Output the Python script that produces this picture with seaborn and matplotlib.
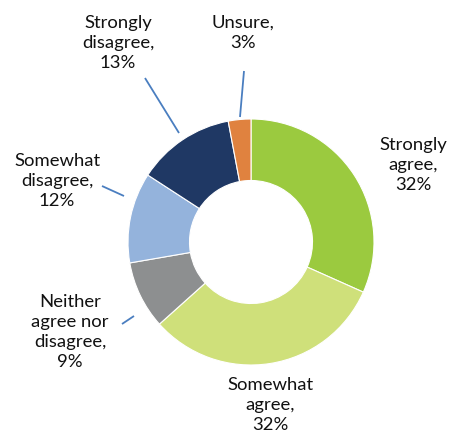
import matplotlib
matplotlib.use("Agg")
import matplotlib.pyplot as plt
import seaborn as sns

categories = ["Strongly agree", "Somewhat agree", "Neither agree nor disagree",
              "Somewhat disagree", "Strongly disagree", "Unsure"]
values = [32, 32, 9, 12, 13, 3]
label_texts = ["Strongly\nagree,\n32%", "Somewhat\nagree,\n32%", "Neither\nagree nor\ndisagree,\n9%",
               "Somewhat\ndisagree,\n12%", "Strongly\ndisagree,\n13%", "Unsure,\n3%"]
colors = ["#9BCA3F", "#CFE07A", "#8D8F90", "#94B3DC", "#1F3864", "#E0823F"]

sns.set_theme(style="white")
plt.rcParams['font.family'] = ['Lato', 'DejaVu Sans']

W, H = 454, 435
fig = plt.figure(figsize=(W / 100, H / 100), dpi=100)
ax = fig.add_axes([0, 0, 1, 1])

cx, cy, R = 251, H - 243, 123
wedges, _ = ax.pie(values, colors=colors, startangle=90, counterclock=False,
                   center=(cx, cy), radius=R, wedgeprops=dict(width=R * 0.5, edgecolor="white", linewidth=0.8))

# label positions (pixel layout, y from top)
label_pos = [(413, 165), (270, 405), (70, 332), (57, 181), (118, 43), (243, 33)]
for (x, y), t in zip(label_pos, label_texts):
    ax.text(x, H - y, t, ha="center", va="center", fontsize=13.3, color="#111111", linespacing=1.33)

# leader lines (pixel layout, y from top)
leaders = [((179, 134), (145, 79)), ((240, 118), (244, 72)),
           ((124, 197), (102, 187)), ((134, 317), (122, 325))]
for (x1, y1), (x2, y2) in leaders:
    ax.plot([x1, x2], [H - y1, H - y2], color="#4A7EC0", lw=1.3, solid_capstyle="butt")

ax.set_xlim(0, W)
ax.set_ylim(0, H)
ax.set_aspect("equal")
ax.axis("off")
fig.savefig("out.png", dpi=100)
